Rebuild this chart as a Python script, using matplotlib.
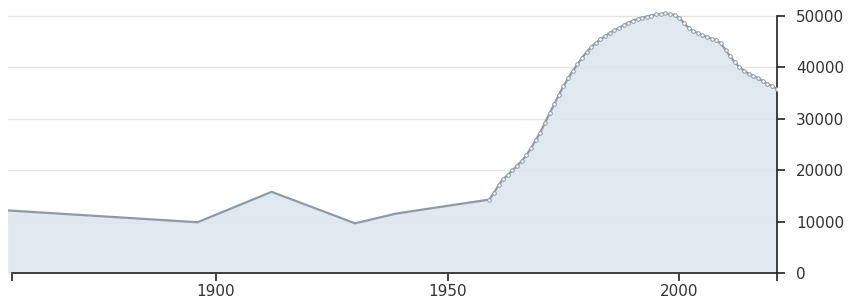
import matplotlib
matplotlib.use("Agg")
import matplotlib.pyplot as plt

years = [1855, 1896, 1912, 1930, 1939, 1959,
         1960, 1961, 1962, 1963, 1964, 1965, 1966, 1967, 1968, 1969,
         1970, 1971, 1972, 1973, 1974, 1975, 1976, 1977, 1978, 1979,
         1980, 1981, 1982, 1983, 1984, 1985, 1986, 1987, 1988, 1989,
         1990, 1991, 1992, 1993, 1994, 1995, 1996, 1997, 1998, 1999,
         2000, 2001, 2002, 2003, 2004, 2005, 2006, 2007, 2008, 2009,
         2010, 2011, 2012, 2013, 2014, 2015, 2016, 2017, 2018, 2019,
         2020, 2021]
values = [12200, 9900, 15800, 9700, 11600, 14300,
          15600, 17100, 18300, 19100, 20000, 20900, 21800, 22900, 24300, 25800,
          27300, 29200, 31000, 32800, 34600, 36300, 37800, 39200, 40500, 41800,
          42900, 43900, 44700, 45400, 46000, 46600, 47100, 47600, 48100, 48600,
          49000, 49300, 49600, 49800, 50000, 50200, 50300, 50400, 50300, 50100,
          49600, 48600, 47600, 47000, 46600, 46200, 45800, 45500, 45200, 44600,
          43300, 42100, 40900, 40000, 39300, 38700, 38300, 37800, 37300, 36800,
          36300, 35800]
x_ticks = [1900, 1950, 2000]
y_ticks = [0, 10000, 20000, 30000, 40000, 50000]

W, H = 853, 299
fig = plt.figure(figsize=(W / 100, H / 100), dpi=100)
left_px, right_px, bottom_px, top_px = 7.6, 776.7, 273.3, 2.0
ax = fig.add_axes([left_px / W, (H - bottom_px) / H,
                   (right_px - left_px) / W, (bottom_px - top_px) / H])

fill_c = "#dde6ef"
line_c = "#8f9aa6"
ax.fill_between(years, values, 0, color=fill_c, alpha=0.9, lw=0, zorder=2)
ax.plot(years, values, color=line_c, lw=1.6, zorder=3)
ax.plot(years[5:], values[5:], ls="none", marker="o", ms=2.6, mfc="white",
        mec=line_c, mew=0.7, zorder=4)

ax.set_xlim(1855, 2021.04)
ax.set_ylim(0, (bottom_px - top_px) / 51.56 * 10000)

for s in ["left", "top"]:
    ax.spines[s].set_visible(False)
ax.spines["right"].set_bounds(0, 50000)
ax.spines["bottom"].set_bounds(1856, 2021.04)
for s in ["right", "bottom"]:
    ax.spines[s].set_color("#222222")
    ax.spines[s].set_linewidth(1.2)

ax.yaxis.tick_right()
ax.set_yticks(y_ticks)
ax.set_yticklabels([str(v) for v in y_ticks])
ax.set_xticks([1856] + x_ticks + [2021.04])
ax.set_xticklabels([""] + [str(v) for v in x_ticks] + [""])
ax.tick_params(axis="both", length=6, width=1.2, color="#222222",
               labelsize=11, labelcolor="#333333")
ax.tick_params(axis="y", pad=8)
ax.tick_params(axis="x", pad=1.5)

for v in y_ticks[1:]:
    ax.axhline(v, color="#e4e4e4", lw=1.0, zorder=1)

fig.savefig("out.png", dpi=100)
